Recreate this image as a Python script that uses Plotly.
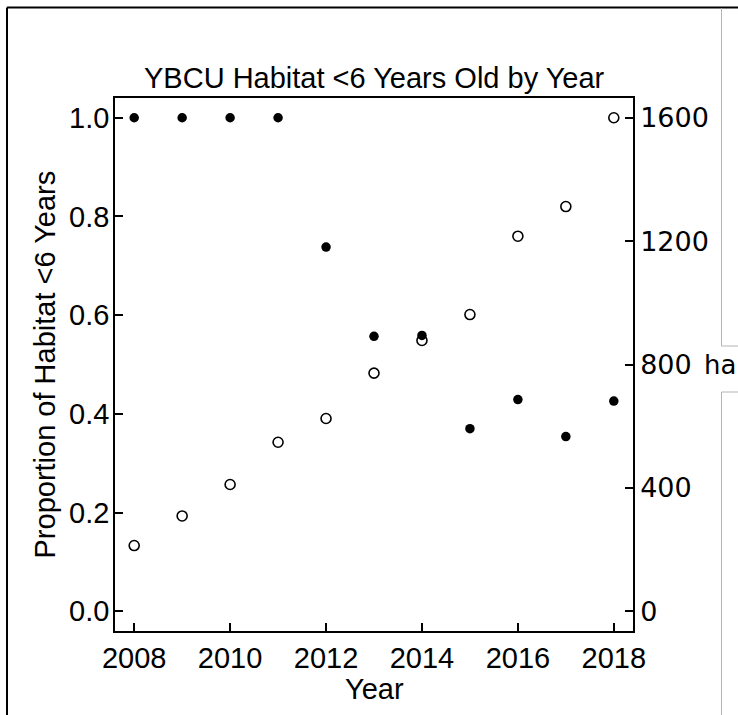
import plotly.graph_objects as go

# Yellow-billed cuckoo habitat younger than 6 years, by survey year
years = [2008, 2009, 2010, 2011, 2012, 2013, 2014, 2015, 2016, 2017, 2018]
proportion_young = [1.0, 1.0, 1.0, 1.0, 0.738, 0.557, 0.559, 0.370, 0.429, 0.354, 0.426]
area_ha = [213, 309, 411, 548, 625, 772, 878, 962, 1216, 1312, 1600]

left_ticks = [0.0, 0.2, 0.4, 0.6, 0.8, 1.0]
right_ticks = [0, 400, 800, 1200, 1600]
year_ticks = [2008, 2010, 2012, 2014, 2016, 2018]

W, H = 738, 715
L, R, T, B = 115, 633, 98, 631  # plot box in pixels

ARIAL = "Liberation Sans, Arial, sans-serif"
DEJAVU = "DejaVu Sans, Verdana, sans-serif"


def px(x):
    return (x - L) / (R - L)


def py(y):
    return (B - y) / (B - T)


fig = go.Figure()

fig.add_trace(go.Scatter(
    x=years, y=area_ha, mode="markers", yaxis="y2",
    marker=dict(symbol="circle-open", size=10, color="black",
                line=dict(width=1.6, color="black")),
    showlegend=False, cliponaxis=False,
))
fig.add_trace(go.Scatter(
    x=years, y=proportion_young, mode="markers", yaxis="y",
    marker=dict(symbol="circle", size=9.5, color="black"),
    showlegend=False, cliponaxis=False,
))

axis_common = dict(
    showgrid=False, zeroline=False, showline=True, linecolor="black",
    linewidth=1.5, ticks="inside", ticklen=8, tickwidth=1.5, tickcolor="black",
)

fig.update_layout(
    width=W, height=H, autosize=False,
    margin=dict(l=L, r=W - R, t=T, b=H - B, pad=0),
    paper_bgcolor="white", plot_bgcolor="white",
    font=dict(family=ARIAL, size=29, color="black"),
    xaxis=dict(
        range=[2007.6, 2018.4], tickvals=year_ticks,
        tickfont=dict(family=ARIAL, size=29, color="black"),
        mirror=True, **axis_common,
    ),
    yaxis=dict(
        range=[-0.04, 1.04], tickvals=left_ticks, tickformat=".1f",
        tickfont=dict(family=ARIAL, size=29, color="black"),
        ticklabelstandoff=-2,
        **axis_common,
    ),
    yaxis2=dict(
        range=[-64, 1664], tickvals=right_ticks, overlaying="y", side="right",
        tickfont=dict(family=DEJAVU, size=27, color="black"),
        **axis_common,
    ),
)

# Title and axis titles
fig.add_annotation(
    text="YBCU Habitat <6 Years Old by Year", xref="paper", yref="paper",
    x=0.5, y=1, xanchor="center", yanchor="bottom", yshift=2, showarrow=False,
    font=dict(family=ARIAL, size=29, color="black"),
)
fig.add_annotation(
    text="Year", xref="paper", yref="paper",
    x=0.5, y=0, xanchor="center", yanchor="top", yshift=-40, showarrow=False,
    font=dict(family=ARIAL, size=29, color="black"),
)
fig.add_annotation(
    text="Proportion of Habitat <6 Years", xref="paper", yref="paper",
    x=0, y=0.5, xanchor="center", yanchor="middle", xshift=-71, textangle=-90,
    showarrow=False, font=dict(family=ARIAL, size=29, color="black"),
)
# Unit label beside the right axis
fig.add_annotation(
    text="ha", xref="paper", yref="y2", x=px(720), y=800,
    xanchor="center", yanchor="middle", showarrow=False,
    bgcolor="white", borderpad=2,
    font=dict(family=DEJAVU, size=26, color="black"),
)

# Figure frame
frame = dict(type="line", xref="paper", yref="paper", layer="above")
fig.add_shape(x0=px(7), x1=px(738), y0=py(7.5), y1=py(7.5),
              line=dict(color="black", width=2), **frame)
fig.add_shape(x0=px(7), x1=px(7), y0=py(7.5), y1=py(715),
              line=dict(color="black", width=2), **frame)
gray = dict(color="#b4b4b4", width=1)
fig.add_shape(x0=px(721.5), x1=px(721.5), y0=py(8), y1=py(346), line=gray, **frame)
fig.add_shape(x0=px(721.5), x1=px(738), y0=py(346), y1=py(346), line=gray, **frame)
fig.add_shape(x0=px(721.5), x1=px(721.5), y0=py(392), y1=py(715), line=gray, **frame)
fig.add_shape(x0=px(721.5), x1=px(738), y0=py(392), y1=py(392), line=gray, **frame)

fig.write_html("out.html")
